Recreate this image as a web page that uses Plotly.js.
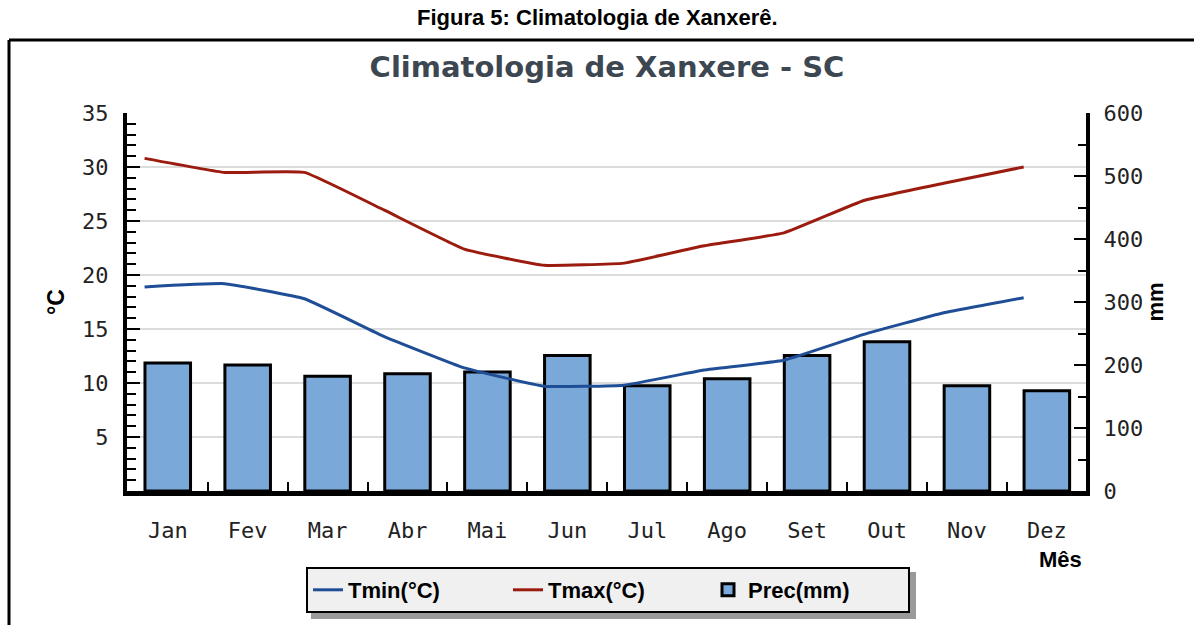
<!DOCTYPE html>
<html>
<head>
<meta charset="utf-8">
<script src="https://cdn.plot.ly/plotly-3.0.1.min.js"></script>
<style>
  html, body { margin: 0; padding: 0; background: #fff; }
  #plotDiv { width: 1194px; height: 625px; }
</style>
</head>
<body>
<div id="plotDiv"></div>
<script>
// monthly climate normals for Xanxere - SC
let months = ["Jan", "Fev", "Mar", "Abr", "Mai", "Jun", "Jul", "Ago", "Set", "Out", "Nov", "Dez"];
let tmin = [18.9, 19.2, 17.8, 14.3, 11.4, 9.7, 9.8, 11.2, 12.1, 14.5, 16.5, 17.9];
let tmax = [30.8, 29.5, 29.5, 26.0, 22.4, 20.9, 21.1, 22.7, 23.9, 26.9, 28.5, 30.0];
let prec = [203, 200, 182, 186, 189, 215, 167, 178, 215, 237, 167, 159];

let tempTicks = [5, 10, 15, 20, 25, 30, 35];
let precTicks = [0, 100, 200, 300, 400, 500, 600];

// plot area in pixels
const L = 127, R = 1086, T = 113, B = 491;
function px(x) { return (x - L) / (R - L); }
function py(y) { return (B - y) / (B - T); }

let idx = months.map((m, i) => i);
let lineX = idx.map(i => i - 0.29); // the lines sit at the left edge of each bar
let between = idx.slice(0, -1).map(i => i + 0.5);

let monoFont = { family: "DejaVu Sans Mono, monospace", size: 22, color: "#222" };

let data = [
  {
    x: idx, y: prec, type: "bar", name: "Prec(mm)", legendrank: 3,
    xaxis: "x", yaxis: "y", width: 0.57,
    marker: { color: "#7aa9d9", line: { color: "#000", width: 3 } }
  },
  {
    x: lineX, y: tmin, type: "scatter", mode: "lines", name: "Tmin(°C)", legendrank: 1,
    xaxis: "x", yaxis: "y2",
    line: { color: "#1f4e96", width: 3, shape: "spline", smoothing: 0.3 }
  },
  {
    x: lineX, y: tmax, type: "scatter", mode: "lines", name: "Tmax(°C)", legendrank: 2,
    xaxis: "x", yaxis: "y2",
    line: { color: "#9b1b0e", width: 3, shape: "spline", smoothing: 0.3 }
  }
];

let layout = {
  width: 1194,
  height: 625,
  margin: { l: L, r: 1194 - R, t: T, b: 625 - B, pad: 0 },
  paper_bgcolor: "#fff",
  plot_bgcolor: "#fff",
  showlegend: true,
  title: {
    text: "Climatologia de Xanxere - SC",
    font: { family: "DejaVu Sans", size: 29, color: "#3c4752", weight: "bold" },
    xref: "container", yref: "container",
    x: 607 / 1194, y: 1 - 67 / 625, xanchor: "center", yanchor: "middle"
  },
  xaxis: {
    range: [-0.51, 11.49],
    tickvals: idx, ticktext: months,
    ticks: "", showgrid: false, zeroline: false,
    showline: true, linecolor: "#000", linewidth: 5,
    tickfont: monoFont, ticklabelstandoff: 16,
    minor: { tickvals: between, ticks: "inside", ticklen: 9, tickwidth: 2, tickcolor: "#000", showgrid: false }
  },
  // precipitation axis (right) carries the bars, drawn under the lines
  yaxis: {
    side: "right", range: [0, 600],
    tickvals: precTicks,
    ticks: "inside", ticklen: 12, tickwidth: 2, tickcolor: "#000",
    minor: { dtick: 50, ticks: "inside", ticklen: 8, tickwidth: 2, tickcolor: "#000", showgrid: false },
    showgrid: false, zeroline: false,
    showline: true, linecolor: "#000", linewidth: 4,
    tickfont: monoFont, ticklabelstandoff: 9,
    title: { text: "mm", standoff: 6, font: { family: "Liberation Sans", size: 22, color: "#000", weight: "bold" } }
  },
  // temperature axis (left)
  yaxis2: {
    overlaying: "y", side: "left", range: [0, 35],
    tickvals: tempTicks,
    ticks: "inside", ticklen: 13, tickwidth: 2, tickcolor: "#000",
    minor: { dtick: 1, ticks: "inside", ticklen: 9, tickwidth: 2, tickcolor: "#000", showgrid: false },
    showgrid: true, gridcolor: "#dcdcdc", gridwidth: 2, zeroline: false,
    showline: true, linecolor: "#000", linewidth: 4,
    tickfont: monoFont, ticklabelstandoff: 10,
    title: { text: "°C", standoff: 12, font: { family: "Liberation Sans", size: 23, color: "#000", weight: "bold" } }
  },
  legend: {
    orientation: "h",
    x: px(306), y: py(567), xanchor: "left", yanchor: "top",
    bgcolor: "#f0f0f0", bordercolor: "#000", borderwidth: 2,
    traceorder: "normal",
    entrywidth: 155, entrywidthmode: "pixels",
    font: { family: "Liberation Sans", size: 22, color: "#000", weight: "bold" }
  },
  annotations: [
    {
      text: "Figura 5: Climatologia de Xanxerê.",
      xref: "paper", yref: "paper", x: px(597), y: py(18),
      xanchor: "center", yanchor: "middle", showarrow: false,
      font: { family: "Liberation Sans", size: 22, color: "#000", weight: "bold" }
    },
    {
      text: "Mês",
      xref: "paper", yref: "paper", x: px(1060), y: py(559),
      xanchor: "center", yanchor: "middle", showarrow: false,
      font: { family: "Liberation Sans", size: 22, color: "#000", weight: "bold" }
    }
  ],
  shapes: [
    // outer frame (top and left edges)
    { type: "line", xref: "paper", yref: "paper", x0: px(9), x1: px(1194), y0: py(40), y1: py(40), line: { color: "#000", width: 3 } },
    { type: "line", xref: "paper", yref: "paper", x0: px(9), x1: px(9), y0: py(40), y1: py(625), line: { color: "#000", width: 3 } },
    // legend shadow
    { type: "rect", xref: "paper", yref: "paper", x0: px(311), x1: px(916), y0: py(572), y1: py(619), line: { width: 0 }, fillcolor: "#9a9a9a", layer: "below" }
  ]
};

Plotly.newPlot("plotDiv", data, layout, { displayModeBar: false, staticPlot: true });
</script>
</body>
</html>
